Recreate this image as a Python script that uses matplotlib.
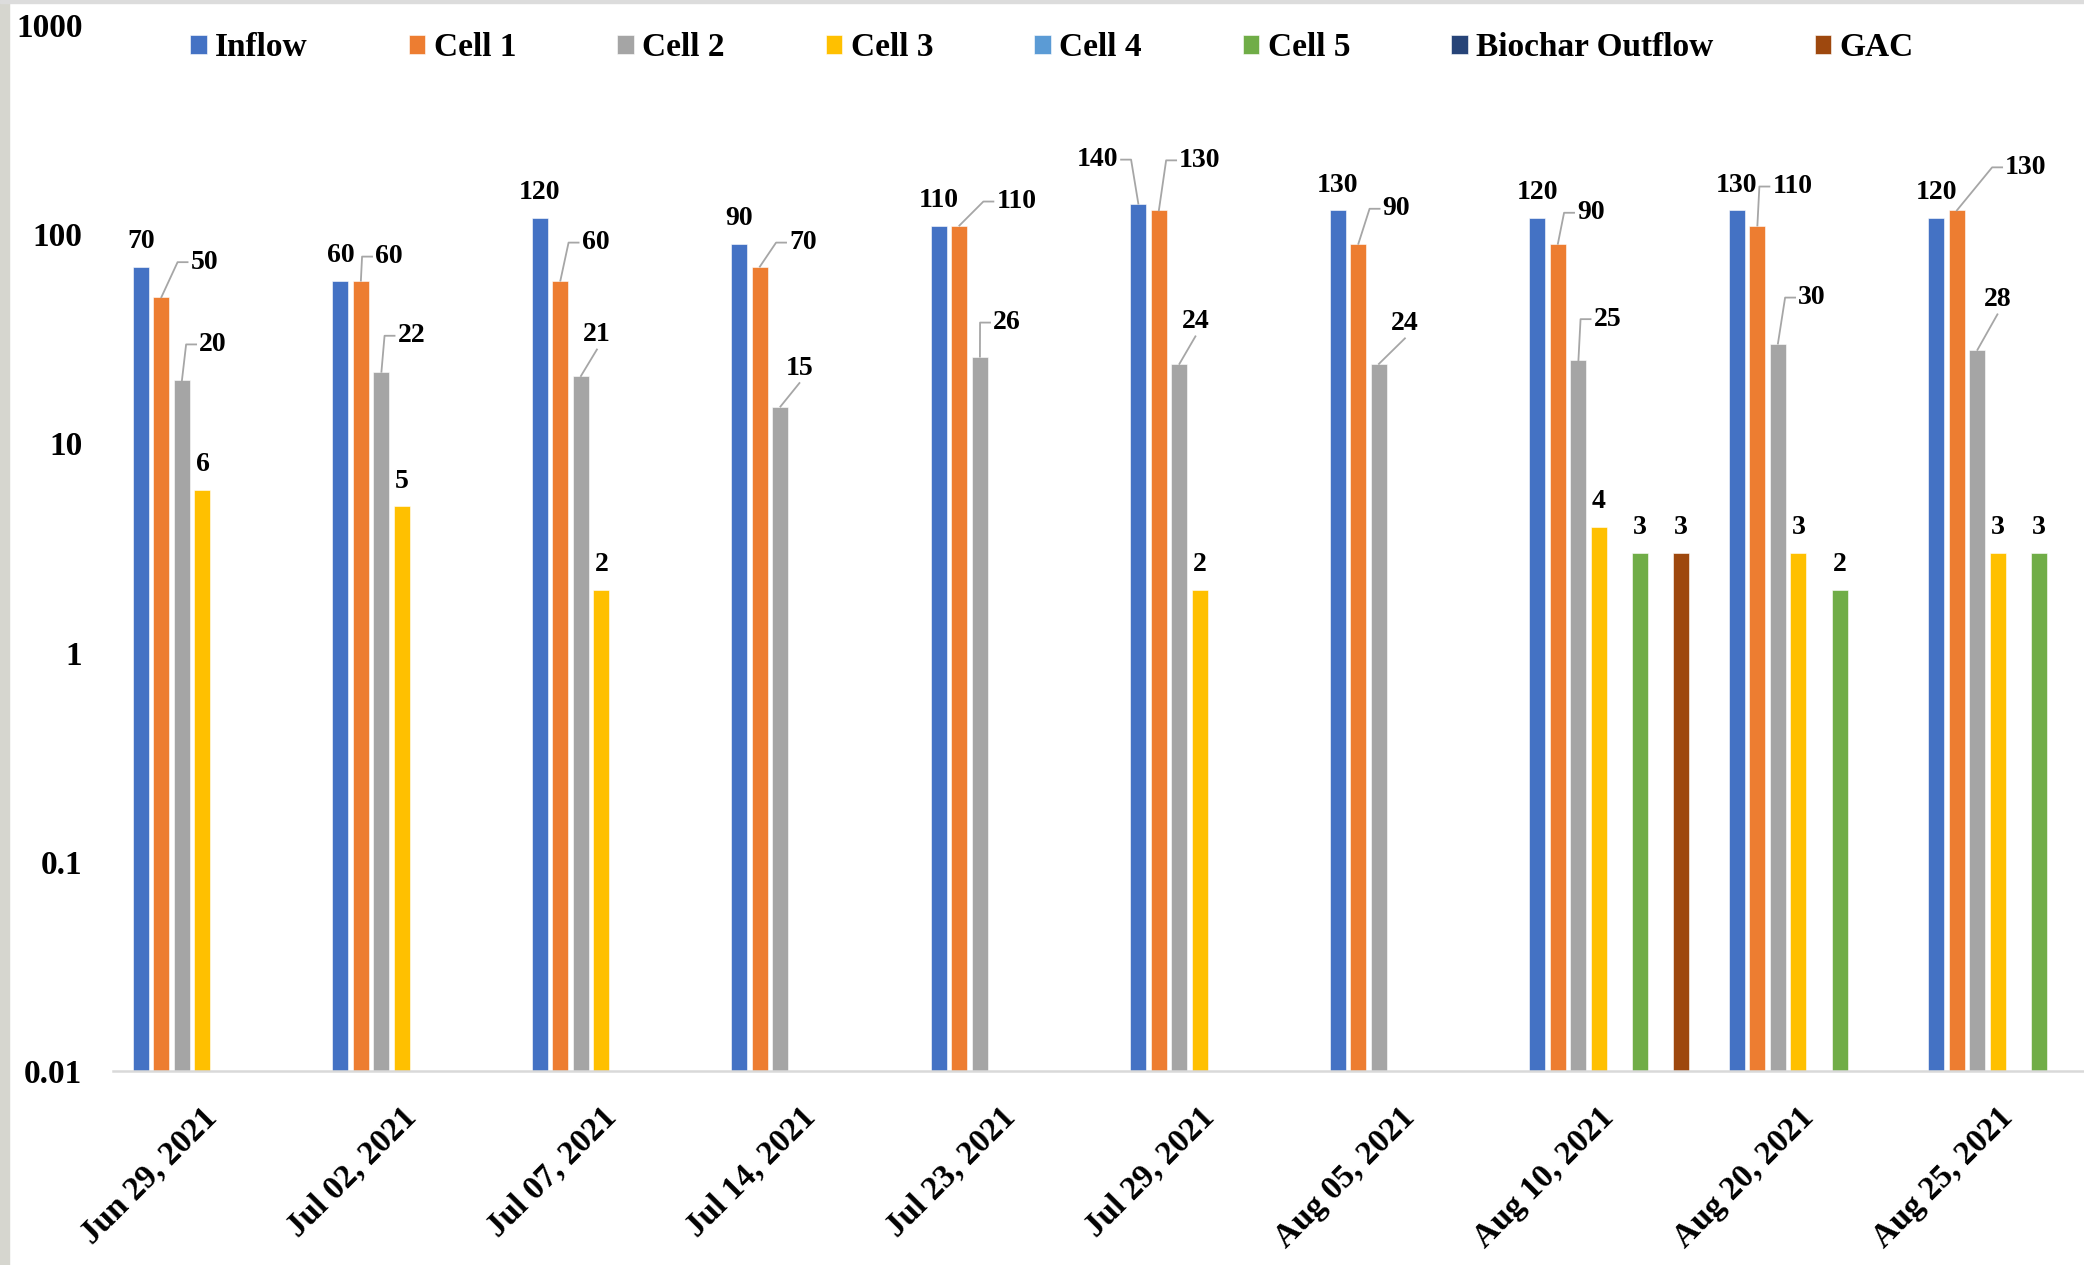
import matplotlib.pyplot as plt
import numpy as np
from matplotlib.lines import Line2D
from matplotlib.patches import Rectangle
from matplotlib.transforms import IdentityTransform

# ---------------- data ----------------
nan = np.nan
dates = ["Jun 29, 2021", "Jul 02, 2021", "Jul 07, 2021", "Jul 14, 2021", "Jul 23, 2021",
         "Jul 29, 2021", "Aug 05, 2021", "Aug 10, 2021", "Aug 20, 2021", "Aug 25, 2021"]
series_names = ["Inflow", "Cell 1", "Cell 2", "Cell 3", "Cell 4", "Cell 5", "Biochar Outflow", "GAC"]

inflow = [70, 60, 120, 90, 110, 140, 130, 120, 130, 120]
cell1 = [50, 60, 60, 70, 110, 130, 90, 90, 110, 130]
cell2 = [20, 22, 21, 15, 26, 24, 24, 25, 30, 28]
cell3 = [6, 5, 2, nan, nan, 2, nan, 4, 3, 3]
cell4 = [nan] * 10
cell5 = [nan, nan, nan, nan, nan, nan, nan, 3, 2, 3]
biochar = [nan] * 10
gac = [nan, nan, nan, nan, nan, nan, nan, 3, nan, nan]

yticks = [0.01, 0.1, 1, 10, 100, 1000]
ytick_labels = ["0.01", "0.1", "1", "10", "100", "1000"]

# ---------------- style ----------------
colors = ["#4472C4", "#ED7D31", "#A5A5A5", "#FFC000", "#5B9BD5", "#70AD47", "#264478", "#9E480E"]
FONT = "Liberation Serif"
plt.rcParams["font.family"] = [FONT, "DejaVu Serif"]
plt.rcParams["font.weight"] = "bold"

# label moves (Excel dragged labels): (series, date) -> (dx px, dy px up, leader kind)
DEFAULT_DY = 25
label_moves = {
    (1, 0): (43, 35, "r"), (2, 0): (31, 36, "r"),
    (1, 1): (28, 24, "r"), (2, 1): (30, 36, "r"),
    (1, 2): (35, 38, "r"), (2, 2): (16, 41, "b"),
    (1, 3): (43, 24, "r"), (2, 3): (19, 38, "b"),
    (1, 4): (57, 24, "r"), (2, 4): (27, 34, "r"),
    (0, 5): (-41, 44, "l"), (1, 5): (41, 50, "r"), (2, 5): (16, 42, "b"),
    (1, 6): (38, 35, "r"), (2, 6): (26, 40, "b"),
    (1, 7): (33, 31, "r"), (2, 7): (29, 41, "r"),
    (1, 8): (35, 39, "r"), (2, 8): (34, 46, "r"),
    (1, 9): (69, 43, "r"), (2, 9): (20, 50, "b"),
}

W, H = 2084, 1265
fig = plt.figure(figsize=(W / 100, H / 100), dpi=100)
ax = fig.add_axes([113 / W, 194 / H, 1995 / W, 1046 / H])

all_series = [inflow, cell1, cell2, cell3, cell4, cell5, biochar, gac]
x = np.arange(len(dates))
slot = 0.103
bar_w = 0.08

bars = []
for i, (name, vals) in enumerate(zip(series_names, all_series)):
    b = ax.bar(x + (i - 3.5) * slot, vals, bar_w, color=colors[i], label=name,
               edgecolor="white", linewidth=0.4, zorder=2)
    bars.append(b)

ax.set_yscale("log")
ax.set_ylim(0.01, 1000)
ax.set_xlim(-0.5, 9.5)
ax.set_yticks(yticks)
ax.set_yticklabels(ytick_labels)
ax.yaxis.set_minor_locator(plt.NullLocator())
ax.set_xticks(x)
ax.set_xticklabels(dates, rotation=45, ha="right", va="center", rotation_mode="anchor")
ax.tick_params(axis="y", length=0, pad=22, labelsize=24)
ax.tick_params(axis="x", length=0, pad=30, labelsize=24)
for s in ["top", "right", "left"]:
    ax.spines[s].set_visible(False)
ax.spines["bottom"].set_color("#D9D9D9")
ax.spines["bottom"].set_linewidth(1.8)

leg = fig.legend(handles=bars, loc="center left", bbox_to_anchor=(190 / W, 1 - 48 / H),
                 ncol=8, frameon=False, fontsize=24, handlelength=0.5, handleheight=0.5,
                 handletextpad=0.25, columnspacing=3.03, borderpad=0, borderaxespad=0)

# data labels
texts = []
for i, vals in enumerate(all_series):
    for j, v in enumerate(vals):
        if np.isnan(v):
            continue
        dx, dy, kind = label_moves.get((i, j), (0, DEFAULT_DY, None))
        t = ax.annotate(f"{v:g}", xy=(x[j] + (i - 3.5) * slot, v), xytext=(dx, dy),
                        textcoords="offset pixels", ha="center", va="center",
                        fontsize=20, fontweight="bold", zorder=4)
        texts.append((t, i, j, v, kind))

# left page border, like the screenshot
fig.patches.append(Rectangle((0, 0), 9 / W, 1, transform=fig.transFigure,
                             color="#D6D6CF", zorder=0))
fig.patches.append(Rectangle((0, 1 - 3 / H), 1, 3 / H, transform=fig.transFigure,
                             color="#DCDCDC", zorder=0))

# leader lines (computed in pixel space)
fig.canvas.draw()
renderer = fig.canvas.get_renderer()
for t, i, j, v, kind in texts:
    if kind is None:
        continue
    bx, by = ax.transData.transform((x[j] + (i - 3.5) * slot, v))
    bb = t.get_window_extent(renderer)
    cy = (bb.y0 + bb.y1) / 2
    if kind == "r":
        xs = [bx, bb.x0 - 13, bb.x0 - 3]
        ys = [by, cy, cy]
    elif kind == "l":
        xs = [bx, bb.x1 + 13, bb.x1 + 3]
        ys = [by, cy, cy]
    else:
        xs = [bx, (bb.x0 + bb.x1) / 2]
        ys = [by, bb.y0 - 2]
    fig.add_artist(Line2D(xs, ys, transform=IdentityTransform(), color="#A6A6A6",
                          linewidth=1.3, zorder=3))

fig.savefig("out.png", dpi=100, facecolor="white")
